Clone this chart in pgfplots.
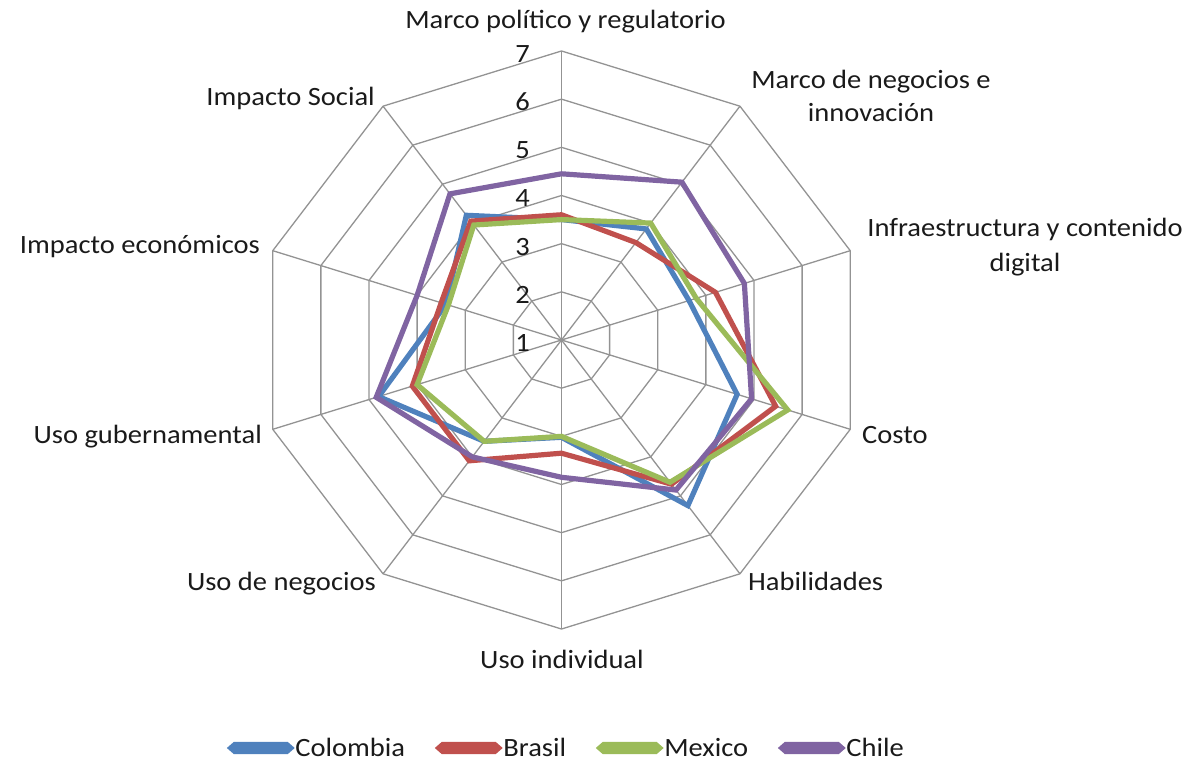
\documentclass[border=0pt]{standalone}
\usepackage{fontspec}
\setmainfont{Carlito}[FakeStretch=1.08]
\usepackage{pgfplots}
\pgfplotsset{compat=1.18}
\usepackage{pgfplotstable}
\definecolor{cCol}{HTML}{4F81BD}
\definecolor{cBra}{HTML}{C0504D}
\definecolor{cMex}{HTML}{9BBB59}
\definecolor{cChi}{HTML}{8064A2}
\definecolor{gridc}{HTML}{939393}
\definecolor{txt}{HTML}{1A1A1A}
% k = axis index (clockwise from top); values on a scale whose centre is 1
\pgfplotstableread{
k  col  bra  mex  chi
0  3.50 3.60 3.50 4.45
1  3.85 3.50 4.00 5.05
2  3.65 4.20 3.80 4.80
3  4.65 5.45 5.70 4.95
4  5.25 4.70 4.65 4.85
5  3.02 3.35 3.00 3.85
6  3.60 4.10 3.60 4.00
7  4.80 4.10 4.00 4.85
8  3.40 3.50 3.35 4.00
9  4.20 4.05 3.95 4.75
10 3.50 3.60 3.50 4.45
}\radar
\begin{document}
\begin{tikzpicture}[x=1bp,y=1bp,font=\fontsize{26.5}{33}\selectfont,text=txt]
\begin{axis}[
  anchor=origin, at={(0,0)},
  x=50.6bp, y=48.17bp,
  xmin=-11.097, xmax=12.500, ymin=-8.719, ymax=7.058,
  hide axis, clip=false,
  legend columns=4,
  legend style={draw=none, fill=none, inner sep=0pt,
    at={(0.19095,0.0158)}, anchor=west,
    font=\fontsize{26.5}{33}\selectfont,
    nodes={inner xsep=2bp, inner ysep=0pt, text=txt},
    /tikz/every even column/.append style={column sep=29bp}},
  legend image code/.code={%
    \fill[#1] (0bp,0bp) -- (4bp,3.5bp) -- (56bp,3.5bp) -- (60bp,0bp) -- (56bp,-3.5bp) -- (4bp,-3.5bp) -- cycle;},
  series/.style={line width=5.2bp, line join=miter, line cap=round, mark=none},
]
% grid rings (values 2..7) and spokes
\pgfplotsinvokeforeach{1,...,6}{
  \addplot[gridc, line width=1.3bp, domain=90:-270, samples=11, forget plot] ({#1*cos(x)},{#1*sin(x)});
}
\pgfplotsinvokeforeach{0,...,9}{
  \addplot[gridc, line width=1.3bp, domain=0:6, samples=2, forget plot] ({x*cos(90-36*#1)},{x*sin(90-36*#1)});
}
\addplot[series, color=cCol] table[x expr={(\thisrow{col}-1)*cos(90-36*\thisrow{k})}, y expr={(\thisrow{col}-1)*sin(90-36*\thisrow{k})}] {\radar};
\addlegendentry{Colombia}
\addplot[series, color=cBra] table[x expr={(\thisrow{bra}-1)*cos(90-36*\thisrow{k})}, y expr={(\thisrow{bra}-1)*sin(90-36*\thisrow{k})}] {\radar};
\addlegendentry{Brasil}
\addplot[series, color=cMex] table[x expr={(\thisrow{mex}-1)*cos(90-36*\thisrow{k})}, y expr={(\thisrow{mex}-1)*sin(90-36*\thisrow{k})}] {\radar};
\addlegendentry{Mexico}
\addplot[series, color=cChi] table[x expr={(\thisrow{chi}-1)*cos(90-36*\thisrow{k})}, y expr={(\thisrow{chi}-1)*sin(90-36*\thisrow{k})}] {\radar};
\addlegendentry{Chile}
\end{axis}
% scale numbers
\begin{scope}[every node/.style={inner sep=0pt, anchor=base east}]
\node at (-31.5,-11.5) {1};
\node at (-31.5,36.67) {2};
\node at (-31.5,84.84) {3};
\node at (-31.5,133.0) {4};
\node at (-31.5,181.2) {5};
\node at (-31.5,229.35) {6};
\node at (-31.5,277.5) {7};
\end{scope}
% category labels
\begin{scope}[every node/.style={inner sep=0pt}]
\node[anchor=base] at (4,311.7) {Marco político y regulatorio};
\node[anchor=base] at (309.5,251.7) {Marco de negocios e};
\node[anchor=base] at (309.5,218.3) {innovación};
\node[anchor=base] at (463.5,103.3) {Infraestructura y contenido};
\node[anchor=base] at (463.5,68.3) {digital};
\node[anchor=base west] at (300.5,-104) {Costo};
\node[anchor=base west] at (186.5,-251) {Habilidades};
\node[anchor=base] at (0.5,-328) {Uso individual};
\node[anchor=base east] at (-185.5,-251) {Uso de negocios};
\node[anchor=base east] at (-299.5,-104) {Uso gubernamental};
\node[anchor=base east] at (-301.5,86) {Impacto económicos};
\node[anchor=base east] at (-186.5,234) {Impacto Social};
\end{scope}
\pgfresetboundingbox
\path (-561.5,-420) rectangle (632.5,340);
\end{tikzpicture}
\end{document}
